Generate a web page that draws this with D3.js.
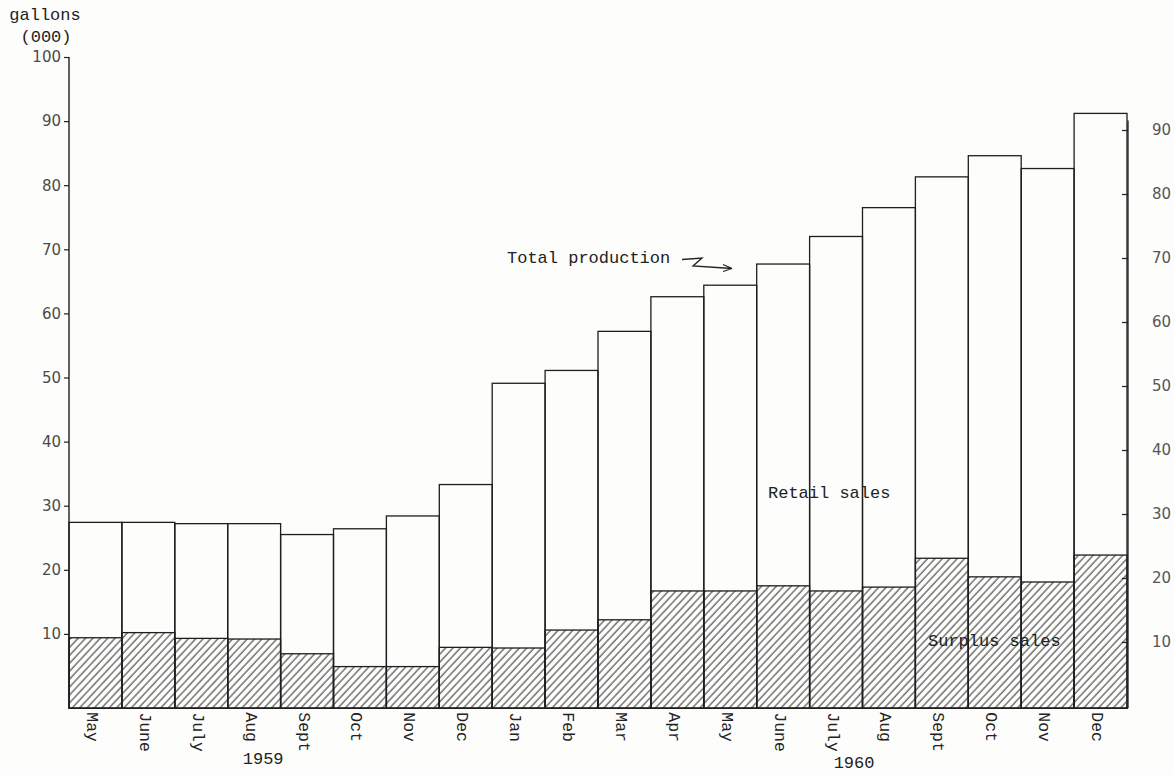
<!DOCTYPE html>
<html>
<head>
<meta charset="utf-8">
<script src="https://cdn.jsdelivr.net/npm/d3@7"></script>
<style>
  html, body { margin: 0; padding: 0; background: #fdfdfc; }
  svg { display: block; }
  .mono { font-family: "Liberation Mono", "DejaVu Sans Mono", monospace; fill: #222; }
  .tick text { font-family: "DejaVu Sans", sans-serif; font-size: 15px; fill: #4a4a4a; }
</style>
</head>
<body>
<svg id="chart" width="1174" height="775"></svg>
<script>
// ---- data ----
const months = ["May","June","July","Aug","Sept","Oct","Nov","Dec","Jan","Feb","Mar","Apr","May","June","July","Aug","Sept","Oct","Nov","Dec"];
const years  = ["1959","1959","1959","1959","1959","1959","1959","1959","1960","1960","1960","1960","1960","1960","1960","1960","1960","1960","1960","1960"];
const totalProduction = [27.4,27.4,27.2,27.2,25.5,26.4,28.4,33.3,49.1,51.1,57.2,62.6,64.4,67.7,72.0,76.5,81.3,84.6,82.6,91.2];
const surplusSales    = [9.4,10.2,9.3,9.2,6.9,4.9,4.9,7.9,7.8,10.6,12.2,16.7,16.7,17.5,16.7,17.3,21.8,18.9,18.1,22.3];
const leftTicks  = [10,20,30,40,50,60,70,80,90,100];
const rightTicks = [10,20,30,40,50,60,70,80,90];
const yearLabels = ["1959","1960"];
const axisFloor = -1.6;   // the hand-drawn baseline sits a little below zero

// ---- layout ----
const svg = d3.select("#chart");
const keys = months.map((m,i) => m + " " + years[i]);
const x = d3.scaleBand().domain(keys).range([69, 1127]).padding(0);
const y = d3.scaleLinear().domain([0, 100]).range([698, 57]);
const yR = d3.scaleLinear().domain([0, 100]).range([706, 66]);
const base = y(axisFloor);
const bw = x.bandwidth();

// hatch pattern
const defs = svg.append("defs");
const pat = defs.append("pattern")
  .attr("id", "hatch").attr("patternUnits", "userSpaceOnUse")
  .attr("width", 5.4).attr("height", 10)
  .attr("patternTransform", "rotate(43)");
pat.append("line").attr("x1", 1).attr("y1", -1).attr("x2", 1).attr("y2", 11)
  .attr("stroke", "#222").attr("stroke-width", 0.95);

const rows = keys.map((k,i) => ({k, month: months[i], total: totalProduction[i], surplus: surplusSales[i]}));

// total production bars (outline)
svg.append("g").selectAll("rect").data(rows).join("rect")
  .attr("x", d => x(d.k)).attr("width", bw)
  .attr("y", d => y(d.total)).attr("height", d => base - y(d.total))
  .attr("fill", "none").attr("stroke", "#1e1e1e").attr("stroke-width", 1.3);

// surplus sales bars (hatched)
svg.append("g").selectAll("rect").data(rows).join("rect")
  .attr("x", d => x(d.k)).attr("width", bw)
  .attr("y", d => y(d.surplus)).attr("height", d => base - y(d.surplus))
  .attr("fill", "url(#hatch)").attr("stroke", "#1e1e1e").attr("stroke-width", 1.3);

// left axis
const leftAxis = svg.append("g").attr("transform", `translate(${x.range()[0]},0)`)
  .call(d3.axisLeft(y).tickValues(leftTicks).tickSize(5).tickPadding(3).tickFormat(d3.format("d")));
leftAxis.select(".domain").remove();
leftAxis.selectAll(".tick line").attr("stroke", "#222").attr("stroke-width", 1.2);
svg.append("line").attr("x1", x.range()[0]).attr("x2", x.range()[0])
  .attr("y1", y(100)).attr("y2", base).attr("stroke", "#1e1e1e").attr("stroke-width", 1.4);

// right axis
const rightAxis = svg.append("g").attr("transform", `translate(${x.range()[1] + 1},0)`)
  .call(d3.axisRight(yR).tickValues(rightTicks).tickSize(-6).tickPadding(24).tickFormat(d3.format("d")));
rightAxis.select(".domain").remove();
rightAxis.selectAll(".tick line").attr("stroke", "#222").attr("stroke-width", 1.2);
rightAxis.selectAll(".tick text").style("fill", "#555");
svg.append("line").attr("x1", x.range()[1] + 1).attr("x2", x.range()[1] + 1)
  .attr("y1", yR(91.5)).attr("y2", base).attr("stroke", "#1e1e1e").attr("stroke-width", 1.3);

// baseline
svg.append("line").attr("x1", x.range()[0]).attr("x2", x.range()[1] + 1)
  .attr("y1", base).attr("y2", base).attr("stroke", "#1e1e1e").attr("stroke-width", 1.5);

// month labels (rotated, typewriter)
svg.append("g").selectAll("text").data(rows).join("text")
  .attr("class", "mono")
  .attr("transform", d => `translate(${x(d.k) + bw / 2 - 4},${base + 4}) rotate(90)`)
  .attr("dominant-baseline", "central")
  .style("font-size", "16.5px")
  .text(d => d.month);

// year labels
const yearPos = [x(keys[3]) + bw * 0.67, x(keys[14]) + bw * 0.84];
svg.append("g").selectAll("text").data(yearLabels).join("text")
  .attr("class", "mono").attr("text-anchor", "middle")
  .attr("x", (d,i) => yearPos[i]).attr("y", (d,i) => base + 56 + i * 4)
  .style("font-size", "17px").text(d => d);

// axis title
svg.append("text").attr("class", "mono").attr("text-anchor", "middle")
  .attr("x", 45).attr("y", 20).style("font-size", "17px").text("gallons");
svg.append("text").attr("class", "mono").attr("text-anchor", "middle")
  .attr("x", 46).attr("y", 42).style("font-size", "17px").text("(000)");

// annotations
svg.append("text").attr("class", "mono").attr("x", 507).attr("y", 263)
  .style("font-size", "17px").text("Total production");
svg.append("path")
  .attr("d", "M682,259.5 L702,258 L693,266 L732,268.5 M732,268.5 L723,264.5 M732,268.5 L723,271.5")
  .attr("fill", "none").attr("stroke", "#222").attr("stroke-width", 1.3);
svg.append("text").attr("class", "mono").attr("x", 768).attr("y", 498)
  .style("font-size", "17px").text("Retail sales");
svg.append("text").attr("class", "mono").attr("x", 928).attr("y", 646)
  .style("font-size", "17px").text("Surplus sales");
</script>
</body>
</html>
